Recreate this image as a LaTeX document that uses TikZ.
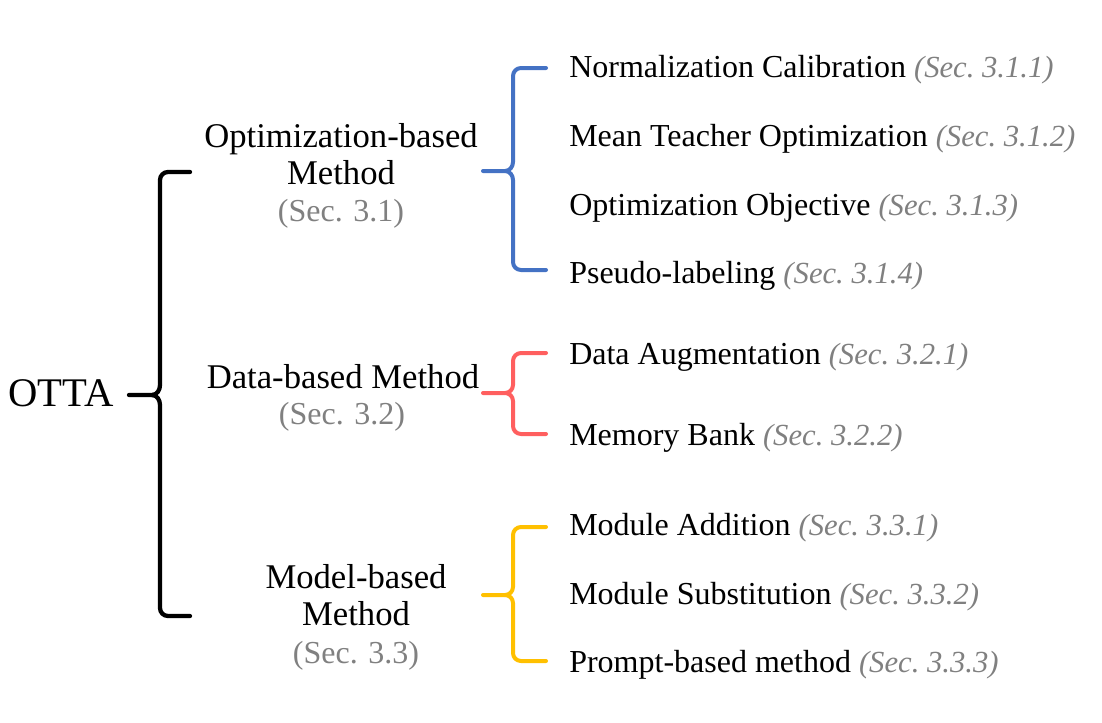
\documentclass[tikz,border=0pt]{standalone}
\usepackage{fontspec}
\setmainfont{Liberation Serif}
\definecolor{bblue}{HTML}{4472C4}
\definecolor{bred}{HTML}{FF5F5F}
\definecolor{byel}{HTML}{FFC000}
\definecolor{sgray}{HTML}{808080}
\tikzset{
  lvone/.style={anchor=base, inner sep=0pt, font=\fontsize{26}{30}\selectfont},
  lvsec/.style={anchor=base, inner sep=0pt, text=sgray, font=\fontsize{24}{28}\selectfont},
  lvtwo/.style={anchor=base west, inner sep=0pt, font=\fontsize{24}{28}\selectfont},
  bracebk/.style={line width=3.2pt, black, line cap=round, line join=round},
  bracec/.style={line width=3pt, line cap=round, line join=round},
}
\newcommand{\secref}[1]{\textcolor{sgray}{\fontsize{23}{28}\selectfont\itshape (Sec.~#1)}}
\begin{document}
\begin{tikzpicture}[x=0.75pt,y=-0.75pt]
\useasboundingbox (0,0) rectangle (1102,722);
% root
\node[anchor=base west, inner sep=0pt, font=\fontsize{30.5}{34}\selectfont] (otta) at (8,406) {OTTA};
% level 1
\node[lvone] (opta) at (341,147) {Optimization-based};
\node[lvone] (optb) at (341,184) {Method};
\node[lvsec] (optc) at (341,221) {(Sec. 3.1)};
\node[lvone] (data) at (343,388) {Data-based Method};
\node[lvsec] (datc) at (342,424) {(Sec. 3.2)};
\node[lvone] (moda) at (356,588) {Model-based};
\node[lvone] (modb) at (356,625) {Method};
\node[lvsec] (modc) at (356,663) {(Sec. 3.3)};
% level 2
\node[lvtwo] (n1) at (569,77) {Normalization Calibration \secref{3.1.1}};
\node[lvtwo] (n2) at (569,146) {Mean Teacher Optimization \secref{3.1.2}};
\node[lvtwo] (n3) at (569,215) {Optimization Objective \secref{3.1.3}};
\node[lvtwo] (n4) at (569,283) {Pseudo-labeling \secref{3.1.4}};
\node[lvtwo] (n5) at (569,364) {Data Augmentation \secref{3.2.1}};
\node[lvtwo] (n6) at (569,445) {Memory Bank \secref{3.2.2}};
\node[lvtwo] (n7) at (569,535) {Module Addition \secref{3.3.1}};
\node[lvtwo] (n8) at (569,604) {Module Substitution \secref{3.3.2}};
\node[lvtwo] (n9) at (569,672) {Prompt-based method \secref{3.3.3}};
% black brace
\draw[bracebk] (190,172) -- (168,172) to[out=180,in=90] (160,180) -- (160,385) to[out=-90,in=0] (152,395) -- (129,395);
\draw[bracebk] (190,616) -- (168,616) to[out=180,in=-90] (160,608) -- (160,405) to[out=90,in=0] (152,395);
% blue brace
\draw[bracec,bblue] (546,68) -- (521,68) to[out=180,in=90] (513,76) -- (513,162) to[out=-90,in=0] (505,171) -- (483,171);
\draw[bracec,bblue] (546,270) -- (521,270) to[out=180,in=-90] (513,262) -- (513,180) to[out=90,in=0] (505,171);
% red brace
\draw[bracec,bred] (546,353) -- (521,353) to[out=180,in=90] (513,361) -- (513,385) to[out=-90,in=0] (505,393) -- (483,393);
\draw[bracec,bred] (546,434) -- (521,434) to[out=180,in=-90] (513,426) -- (513,401) to[out=90,in=0] (505,393);
% yellow brace
\draw[bracec,byel] (546,527) -- (521,527) to[out=180,in=90] (513,535) -- (513,587) to[out=-90,in=0] (505,595) -- (483,595);
\draw[bracec,byel] (546,661) -- (521,661) to[out=180,in=-90] (513,653) -- (513,603) to[out=90,in=0] (505,595);
\end{tikzpicture}
\end{document}
